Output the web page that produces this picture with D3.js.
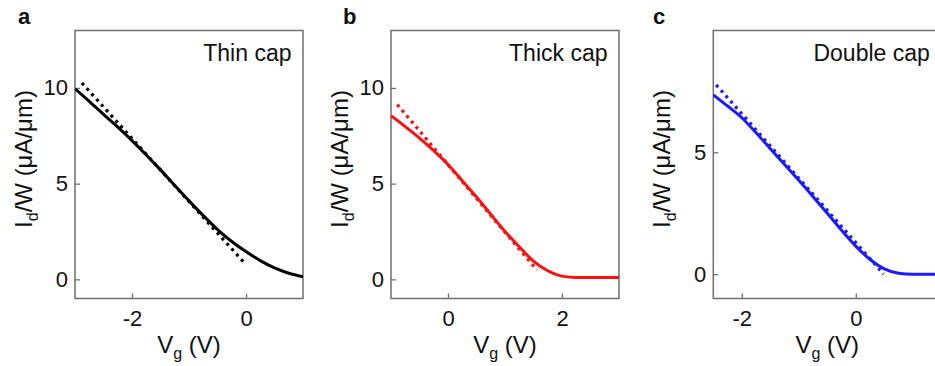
<!DOCTYPE html>
<html>
<head>
<meta charset="utf-8">
<script src="https://cdn.jsdelivr.net/npm/d3@7"></script>
<style>
  html, body { margin: 0; padding: 0; background: #fff; }
  svg { display: block; font-family: "Liberation Sans", Arial, sans-serif; }
</style>
</head>
<body>
<svg id="chart" width="935" height="366"></svg>
<script>
// ---------------- DATA ----------------
// Panel a: Thin cap (black)
const vgA = [-3, -2.75, -2.5, -2.25, -2, -1.75, -1.5, -1.25, -1, -0.75, -0.5, -0.25, 0, 0.25, 0.5, 0.75, 1];
const idA = [9.95, 9.3, 8.62, 7.95, 7.25, 6.5, 5.72, 4.9, 4.1, 3.33, 2.6, 1.98, 1.45, 0.98, 0.6, 0.32, 0.14];
const fitVgA = [-2.88, -0.03];
const fitIdA = [10.26, 0.87];

// Panel b: Thick cap (red)
const vgB = [-1, -0.75, -0.5, -0.25, 0, 0.25, 0.5, 0.75, 1, 1.25, 1.5, 1.75, 2, 2.25, 2.5, 2.75, 3];
const idB = [8.55, 7.98, 7.38, 6.72, 6.0, 5.15, 4.3, 3.4, 2.5, 1.7, 0.95, 0.45, 0.17, 0.1, 0.1, 0.1, 0.1];
const fitVgB = [-0.89, 1.56];
const fitIdB = [9.13, 0.49];

// Panel c: Double cap (blue)
const vgC = [-2.5, -2.25, -2, -1.75, -1.5, -1.25, -1, -0.75, -0.5, -0.25, 0, 0.25, 0.5, 0.75, 1, 1.25, 1.5];
const idC = [7.36, 6.9, 6.42, 5.8, 5.15, 4.5, 3.85, 3.18, 2.5, 1.8, 1.15, 0.6, 0.22, 0.04, 0, 0, 0];
const fitVgC = [-2.45, 0.49];
const fitIdC = [7.77, 0.0];

// Axis tick labels
const xTicksA = [-2, 0];
const xTicksB = [0, 2];
const xTicksC = [-2, 0];
const yTicksA = [0, 5, 10];
const yTicksB = [0, 5, 10];
const yTicksC = [0, 5];

const panelLetters = ["a", "b", "c"];
const panelTitles = ["Thin cap", "Thick cap", "Double cap"];
const colors = ["#000000", "#ff1010", "#1a1aff"];

// ---------------- LAYOUT ----------------
const panels = [
  { letter: panelLetters[0], title: panelTitles[0], color: colors[0],
    vg: vgA, id: idA, fitVg: fitVgA, fitId: fitIdA, xTicks: xTicksA, yTicks: yTicksA,
    xDomain: [-3, 1], yDomain: [-1, 13], left: 75, letterX: 18 },
  { letter: panelLetters[1], title: panelTitles[1], color: colors[1],
    vg: vgB, id: idB, fitVg: fitVgB, fitId: fitIdB, xTicks: xTicksB, yTicks: yTicksB,
    xDomain: [-1, 3], yDomain: [-1, 13], left: 391, letterX: 343 },
  { letter: panelLetters[2], title: panelTitles[2], color: colors[2],
    vg: vgC, id: idC, fitVg: fitVgC, fitId: fitIdC, xTicks: xTicksC, yTicks: yTicksC,
    xDomain: [-2.5, 1.5], yDomain: [-1, 10], left: 713.3, letterX: 653 }
];

const PW = 228, PTOP = 30.5, PBOT = 298.5;
const svg = d3.select("#chart");
const frameColor = "#6f6f6f";

panels.forEach((p, i) => {
  const x = d3.scaleLinear().domain(p.xDomain).range([p.left, p.left + PW]);
  const y = d3.scaleLinear().domain(p.yDomain).range([PBOT, PTOP]);
  const g = svg.append("g");

  const clipId = "clip" + i;
  svg.append("clipPath").attr("id", clipId)
    .append("rect").attr("x", p.left).attr("y", PTOP).attr("width", PW).attr("height", PBOT - PTOP);

  // axes
  const xAxis = d3.axisBottom(x).tickValues(p.xTicks).tickSizeInner(-5).tickSizeOuter(0)
    .tickPadding(11.5).tickFormat(d3.format("d"));
  const yAxis = d3.axisLeft(y).tickValues(p.yTicks).tickSizeInner(-5).tickSizeOuter(0)
    .tickPadding(7).tickFormat(d3.format("d"));

  const gx = g.append("g").attr("transform", `translate(0,${PBOT})`).call(xAxis);
  const gy = g.append("g").attr("transform", `translate(${p.left},0)`).call(yAxis);
  [gx, gy].forEach(a => {
    a.select(".domain").remove();
    a.selectAll(".tick line").attr("stroke", frameColor).attr("stroke-width", 1.3);
    a.selectAll(".tick text").attr("fill", "#111").style("font-size", "22px")
      .style("font-family", "'Liberation Sans', Arial, sans-serif")
      .text(d => d < 0 ? "-" + Math.abs(d) : String(d));
  });

  // frame
  g.append("rect").attr("x", p.left).attr("y", PTOP).attr("width", PW).attr("height", PBOT - PTOP)
    .attr("fill", "none").attr("stroke", frameColor).attr("stroke-width", 1.5);

  // fit (dotted)
  const fitData = p.fitVg.map((v, k) => [v, p.fitId[k]]);
  g.append("path").datum(fitData)
    .attr("clip-path", `url(#${clipId})`)
    .attr("d", d3.line().x(d => x(d[0])).y(d => y(d[1])))
    .attr("fill", "none").attr("stroke", p.color).attr("stroke-width", 3.2)
    .attr("stroke-dasharray", "3,4.2");

  // measured (solid)
  const data = p.vg.map((v, k) => [v, p.id[k]]);
  g.append("path").datum(data)
    .attr("clip-path", `url(#${clipId})`)
    .attr("d", d3.line().x(d => x(d[0])).y(d => y(d[1])).curve(d3.curveMonotoneX))
    .attr("fill", "none").attr("stroke", p.color).attr("stroke-width", 3)
    .attr("stroke-linejoin", "round");

  // panel title inside
  g.append("text").attr("x", p.left + PW - 11.5).attr("y", 61)
    .attr("text-anchor", "end").style("font-size", "23px").attr("fill", "#111")
    .text(p.title);

  // panel letter
  g.append("text").attr("x", p.letterX).attr("y", 24)
    .style("font-size", "22px").style("font-weight", "bold").attr("fill", "#111")
    .text(p.letter);

  // x label
  const xl = g.append("text").attr("x", p.left + PW / 2).attr("y", 353)
    .attr("text-anchor", "middle").style("font-size", "24px").attr("fill", "#111");
  xl.append("tspan").text("V");
  xl.append("tspan").attr("dy", 6).style("font-size", "16px").text("g");
  xl.append("tspan").attr("dy", -6).text(" (V)");

  // y label
  const yl = g.append("text")
    .attr("transform", `translate(${p.left - 43},159) rotate(-90)`)
    .attr("text-anchor", "middle").style("font-size", "24px").attr("fill", "#111");
  yl.append("tspan").text("I");
  yl.append("tspan").attr("dy", 6).style("font-size", "16px").text("d");
  yl.append("tspan").attr("dy", -6).text("/W (\u03BCA/\u03BCm)");
});
</script>
</body>
</html>
